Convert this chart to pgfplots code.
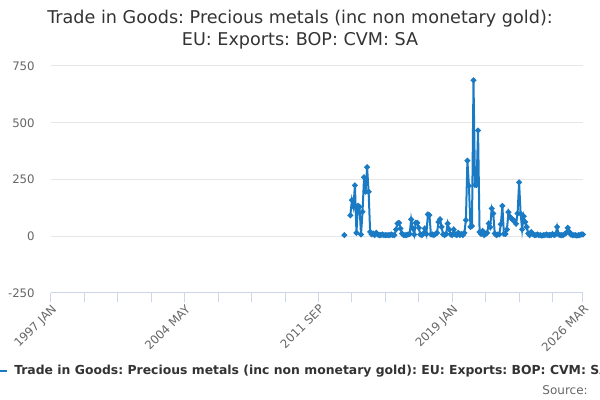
\documentclass[border=0pt]{standalone}
\usepackage{pgfplots}
\pgfplotsset{compat=1.18}
\usepackage{pgfplotstable}
\usepackage{fontspec}
\setmainfont{DejaVu Sans}
\frenchspacing
\definecolor{lineblue}{HTML}{1A7BC4}
\definecolor{gridc}{HTML}{E6E6E6}
\definecolor{axisc}{HTML}{CCD6EB}
\definecolor{labc}{HTML}{666666}
\definecolor{titc}{HTML}{333333}

\pgfplotstableread{
m v
193 5
194 nan
195 nan
196 nan
197 92
198 159
199 130
200 224
201 15
202 134
203 130
204 8
205 108
206 260
207 196
208 304
209 196
210 19
211 8
212 12
213 5
214 15
215 8
216 5
217 5
218 8
219 5
220 5
221 5
222 5
223 5
224 8
225 5
226 5
227 30
228 56
229 59
230 34
231 12
232 5
233 5
234 5
235 8
236 10
237 74
238 35
239 8
240 59
241 59
242 37
243 8
244 5
245 12
246 34
247 10
248 96
249 93
250 8
251 8
252 5
253 10
254 15
255 63
256 75
257 41
258 8
259 5
260 10
261 56
262 30
263 8
264 5
265 30
266 8
267 5
268 15
269 5
270 10
271 5
272 15
273 71
274 333
275 222
276 41
277 45
278 687
279 226
280 226
281 466
282 19
283 10
284 24
285 5
286 10
287 15
288 56
289 40
290 122
291 100
292 12
293 5
294 8
295 8
296 53
297 134
298 10
299 10
300 30
301 106
302 86
303 78
304 71
305 68
306 55
307 100
308 237
309 100
310 30
311 88
312 63
313 41
314 12
315 5
316 19
317 10
318 5
319 5
320 8
321 5
322 5
323 3
324 5
325 5
326 8
327 5
328 5
329 5
330 10
331 5
332 8
333 41
334 8
335 5
336 5
337 5
338 10
339 15
340 37
341 20
342 8
343 5
344 5
345 5
346 3
347 5
348 5
349 8
350 8
}\datatable

\begin{document}
\begin{tikzpicture}[x=1pt,y=1pt]
\useasboundingbox (0,0) rectangle (450,300);
\begin{axis}[
  at={(38.2pt,80.25pt)}, anchor=south west,
  scale only axis, width=399pt, height=170.25pt,
  xmin=0, xmax=350, ymin=-250, ymax=750,
  ytick={-250,0,250,500,750},
  ymajorgrids, grid style={gridc, line width=0.75pt},
  xtick={0,88,176,264,350},
  xticklabels={1997 JAN,2004 MAY,2011 SEP,2019 JAN,2026 MAR},
  minor xtick={22,44,66,110,132,154,198,220,242,286,308,330},
  axis x line*=bottom, axis y line*=left,
  y axis line style={draw=none},
  x axis line style={axisc, line width=0.75pt, -},
  xtick style={axisc, line width=0.75pt},
  ytick style={draw=none},
  tick align=outside,
  major tick length=7pt, minor tick length=7pt,
  xticklabel style={rotate=45, anchor=north east, inner sep=0pt, font=\fontsize{8.8}{10}\selectfont, text=labc},
  xticklabel shift=0.8pt,
  yticklabel style={inner sep=0pt, font=\fontsize{8.8}{10}\selectfont, text=labc},
  yticklabel shift=5pt,
  /pgf/number format/assume math mode=true,
  unbounded coords=jump,
  clip=false,
]
\addplot[lineblue, line width=1.5pt, mark=*, mark size=1.3pt, mark options={solid, fill=lineblue, draw=lineblue}] table[x=m,y=v] {\datatable};
\end{axis}
\node[align=center, text=titc, font=\fontsize{13.2}{16.5}\selectfont] at (225,277.5) {Trade in Goods: Precious metals (inc non monetary gold):\\EU: Exports: BOP: CVM: SA};
\draw[lineblue, line width=1.5pt] (0,21.5) -- (5,21.5);
\node[anchor=west, inner sep=0pt, text=titc, font=\bfseries\fontsize{9.3}{11}\selectfont] at (10.5,21.5) {Trade in Goods: Precious metals (inc non monetary gold): EU: Exports: BOP: CVM: SA};
\node[anchor=east, inner sep=0pt, text=labc, font=\fontsize{9}{10}\selectfont] at (441,7.5) {Source:};
\end{tikzpicture}
\end{document}
